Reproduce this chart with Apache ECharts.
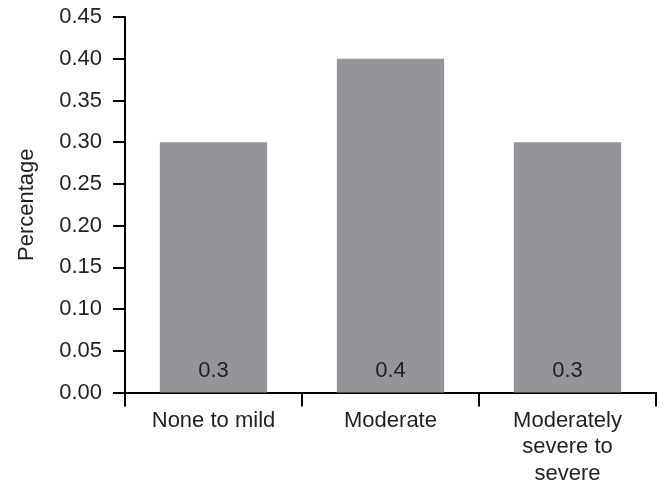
<!DOCTYPE html>
<html><head><meta charset="utf-8">
<script src="https://cdn.jsdelivr.net/npm/echarts@6/dist/echarts.min.js"></script>
<style>html,body{margin:0;padding:0;background:#fff}#c{width:666px;height:492px}</style>
</head><body><div id="c"></div>
<script>
const categories = ["None to mild", "Moderate", "Moderately\nsevere to\nsevere"];
const values = [0.3, 0.4, 0.3];
const barLabels = ["0.3", "0.4", "0.3"];
const yTicks = [0, 0.05, 0.10, 0.15, 0.20, 0.25, 0.30, 0.35, 0.40, 0.45];

const FONT = '"Liberation Sans", Arial, sans-serif';
const TXT = '#231f20';
const chart = echarts.init(document.getElementById('c'), null, {renderer: 'canvas'});
chart.setOption({
  animation: false,
  backgroundColor: '#fff',
  grid: {left: 125, right: 10, top: 17, bottom: 99.5, containLabel: false},
  xAxis: {
    type: 'category', data: categories,
    axisLine: {lineStyle: {color: '#000', width: 2}},
    axisTick: {show: true, length: 14, lineStyle: {color: '#000', width: 2}},
    axisLabel: {color: TXT, fontFamily: FONT, fontSize: 22, margin: 15, lineHeight: 26.5, interval: 0}
  },
  yAxis: {
    type: 'value', min: 0, max: 0.45, interval: 0.05,
    name: 'Percentage', nameLocation: 'middle', nameGap: 87,
    nameTextStyle: {color: TXT, fontFamily: FONT, fontSize: 22},
    axisLine: {show: true, lineStyle: {color: '#000', width: 2}},
    axisTick: {show: true, length: 12, lineStyle: {color: '#000', width: 2}},
    splitLine: {show: false},
    axisLabel: {color: TXT, fontFamily: FONT, fontSize: 22, margin: 23,
      formatter: v => v.toFixed(2)}
  },
  series: [{
    type: 'bar', data: values, barWidth: '60.6%',
    itemStyle: {color: '#939598'},
    label: {show: true, position: 'insideBottom', distance: 11, color: TXT,
      fontFamily: FONT, fontSize: 22,
      formatter: p => barLabels[p.dataIndex]}
  }]
});
</script></body></html>
